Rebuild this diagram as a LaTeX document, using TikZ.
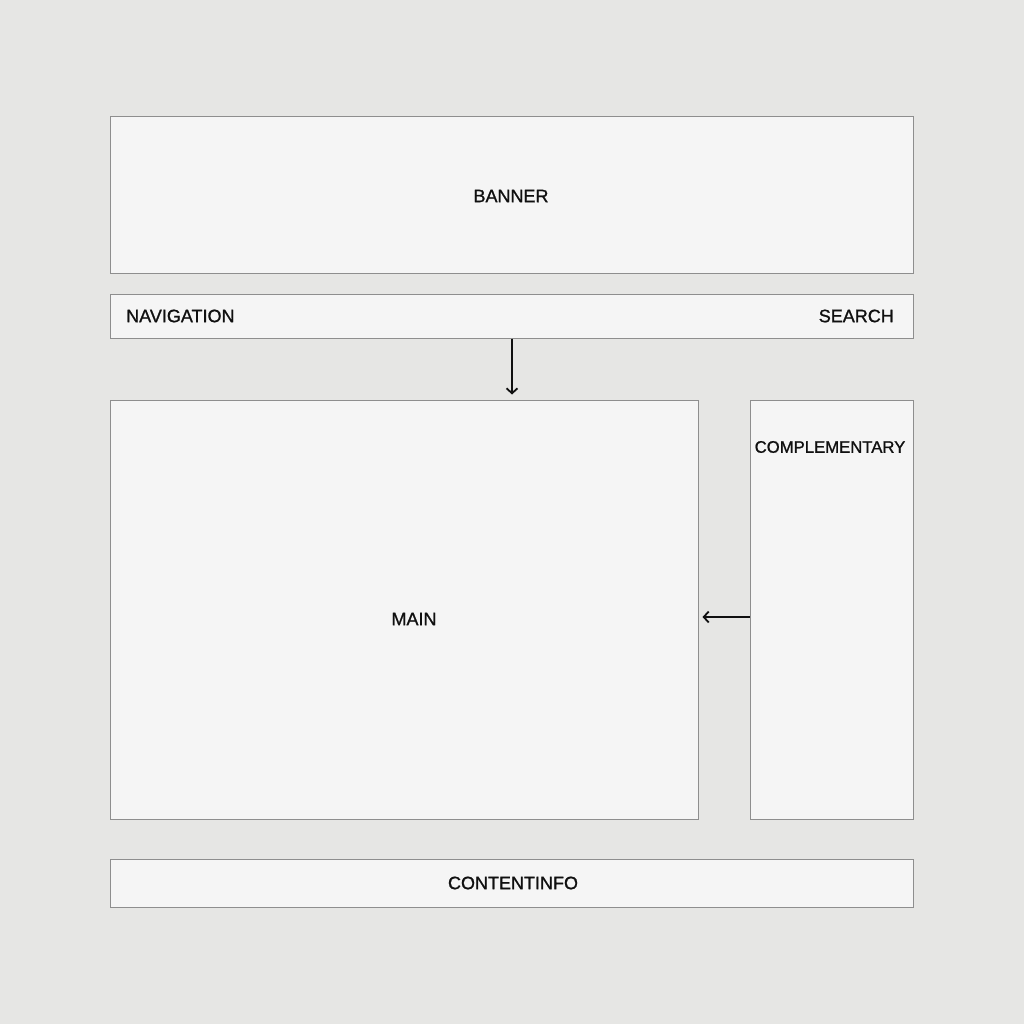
\documentclass[tikz,border=0pt]{standalone}
\usepackage{fontspec}
\setmainfont{Liberation Sans}[FakeBold=1.1]
\usetikzlibrary{arrows.meta,calc}
\definecolor{pagebg}{HTML}{E6E6E4}
\definecolor{boxfill}{HTML}{F5F5F5}
\definecolor{boxline}{HTML}{8E8E8E}
\definecolor{ink}{HTML}{101010}

\begin{document}
\begin{tikzpicture}[x=1pt, y=-1pt,
  region/.style={draw=boxline, fill=boxfill, line width=1pt, inner sep=0pt},
  tag/.style={text=ink, font=\fontsize{18}{20}\selectfont, inner sep=0pt},
  flow/.style={-{Straight Barb[length=5pt, width=11pt, line width=1.8pt]}, line width=1.5pt, draw=ink}]
\fill[pagebg] (0,0) rectangle (1024,1024);
\useasboundingbox (0,0) rectangle (1024,1024);
\node[region, minimum width=803pt, minimum height=156pt] (banner) at (511.5, 195) {};
\node[region, minimum width=803pt, minimum height=44pt] (nav) at (511.5, 316) {};
\node[region, minimum width=588pt, minimum height=419pt] (main) at (404, 609.5) {};
\node[region, minimum width=163pt, minimum height=419pt] (comp) at (831.5, 609.5) {};
\node[region, minimum width=803pt, minimum height=48pt] (footer) at (511.5, 883) {};
\node[tag] (bannerlbl) at (511, 196) {BANNER};
\node[tag, anchor=west] (navlbl) at (126, 316) {NAVIGATION};
\node[tag, anchor=east] (searchlbl) at (894, 316) {SEARCH};
\node[tag] (mainlbl) at (414, 619) {MAIN};
\node[tag, font=\fontsize{16.7}{20}\selectfont] (complbl) at (830, 447) {COMPLEMENTARY};
\node[tag] (footerlbl) at (513, 883) {CONTENTINFO};
\coordinate (navout) at ($(nav.south)+(0.5,0)$);
\coordinate (compout) at ($(comp.west)+(0,7.5)$);
\draw[flow] (navout) -- ($(main.north -| navout)+(0,-5)$);
\draw[flow] (compout) -- ($(main.east |- compout)+(4,0)$);
\end{tikzpicture}
\end{document}
